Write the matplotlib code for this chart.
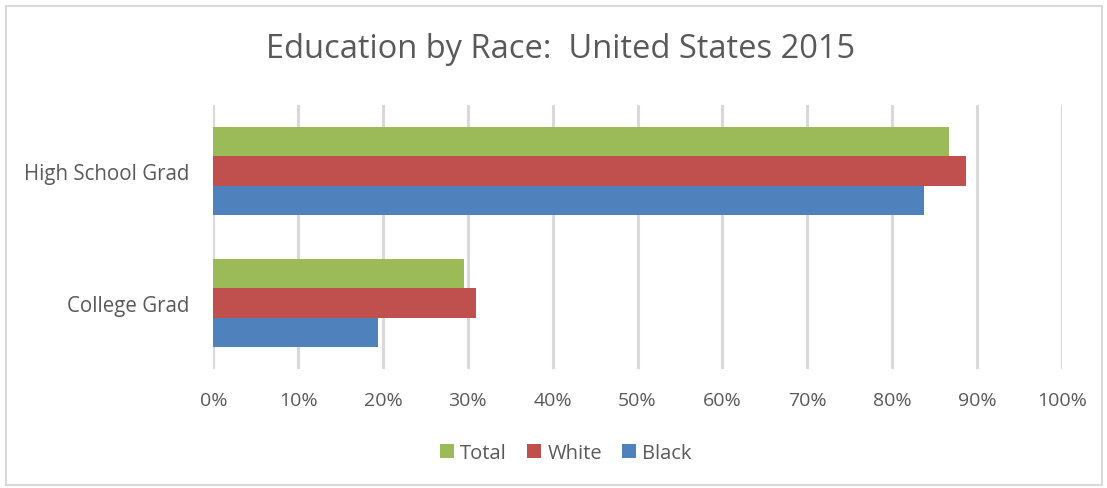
import matplotlib
matplotlib.use("Agg")
import matplotlib.pyplot as plt
from matplotlib.patches import Rectangle
from matplotlib.ticker import FuncFormatter

categories = ["College Grad", "High School Grad"]
series_names = ["Total", "White", "Black"]
total = [29.6, 86.7]
white = [31.0, 88.7]
black = [19.4, 83.8]
colors = ["#9BBB59", "#C0504D", "#4F81BD"]
xticks = list(range(0, 101, 10))

plt.rcParams['font.family'] = ['Open Sans', 'DejaVu Sans']
text_color = "#595959"

fig = plt.figure(figsize=(11.07, 4.89), dpi=100)
ax = fig.add_axes([0.1927, 0.2434, 0.7664, 0.5398])

h = 0.222
offsets = [h, 0, -h]
ypos = list(range(len(categories)))
for vals, off, c, name in zip([total, white, black], offsets, colors, series_names):
    ax.barh([y + off for y in ypos], vals, height=h, color=c, label=name, zorder=3)

ax.set_xlim(0, 100)
ax.set_ylim(-0.5, 1.5)
ax.set_xticks(xticks)
ax.xaxis.set_major_formatter(FuncFormatter(lambda v, p: f"{int(v)}%"))
ax.set_yticks(ypos)
ax.set_yticklabels(categories)
ax.grid(axis="x", color="#D9D9D9", linewidth=2.2, zorder=0)
for s in ax.spines.values():
    s.set_visible(False)
ax.tick_params(axis="x", length=0, labelsize=14, colors=text_color, pad=16)
ax.tick_params(axis="y", length=0, labelsize=14.8, colors=text_color, pad=17)

fig.text(561 / 1107, 1 - 50 / 489, "Education by Race:  United States 2015",
         ha="center", va="center", fontsize=23.5, color=text_color)

leg = fig.legend(loc="center", bbox_to_anchor=(566 / 1107, 1 - 454 / 489), ncol=3,
                 frameon=False, fontsize=14.5, handlelength=0.7, handleheight=0.7,
                 handletextpad=0.3, columnspacing=1.0, labelcolor=text_color)

fig.patches.append(Rectangle((6 / 1107, 1 - 486 / 489), 1096 / 1107, 479 / 489,
                             transform=fig.transFigure, fill=False,
                             edgecolor="#D9D9D9", linewidth=1.5))

fig.savefig("out.png", dpi=100, facecolor="white")
